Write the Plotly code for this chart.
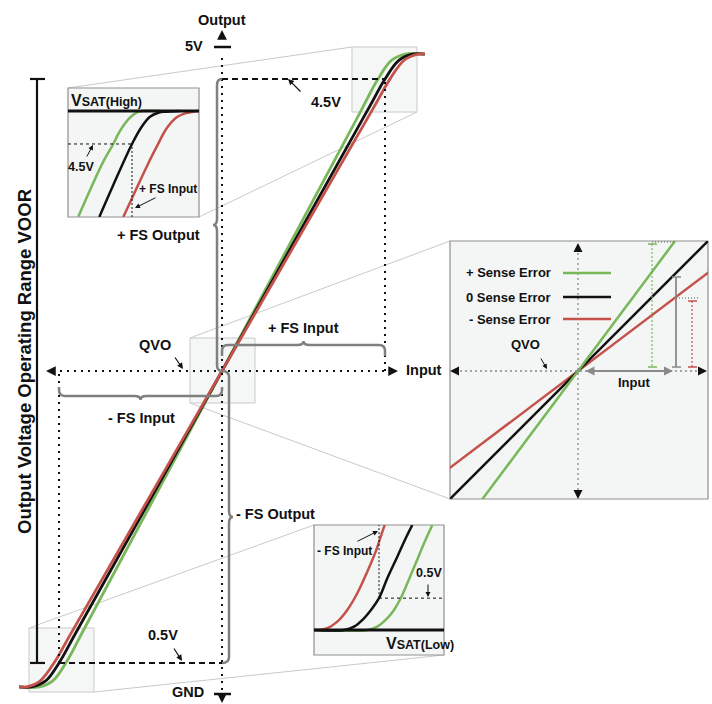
import plotly.graph_objects as go

W, H = 712, 704

# ---------------- chart values ----------------
QVO = 2.5          # quiescent output voltage (V)
FS_INPUT = 1.0     # full-scale input (normalised)
V_POS_FS = 4.5     # output at +FS input (V)
V_NEG_FS = 0.5     # output at -FS input (V)
VSAT_HIGH = 4.67   # saturation high (V)
VSAT_LOW = 0.336   # saturation low (V)

series_names = ["+ Sense Error", "0 Sense Error", "- Sense Error"]

# main transfer curves: input (x FS) -> output (V)
main_green_x = [-1.245, -1.12, -1.035, -0.95, -0.85, 0.0, 0.85, 0.954, 1.039, 1.124, 1.245]
main_green_y = [0.336, 0.336, 0.381, 0.515, 0.724, 2.5, 4.277, 4.494, 4.627, 4.671, 4.671]
main_black_x = [-1.245, -1.17, -1.082, -1.0, -0.9, 0.0, 0.9, 1.0, 1.085, 1.17, 1.245]
main_black_y = [0.336, 0.336, 0.377, 0.5, 0.7, 2.5, 4.3, 4.5, 4.6275, 4.67, 4.67]
main_red_x = [-1.245, -1.2, -1.115, -1.03, -0.93, 0.0, 0.93, 1.034, 1.119, 1.204, 1.245]
main_red_y = [0.336, 0.336, 0.378, 0.502, 0.696, 2.5, 4.304, 4.506, 4.630, 4.671, 4.671]

# zoomed view near VSAT(High)
hi_green_x = [0.6949, 0.8369, 0.8938, 0.9222, 0.9506, 0.979, 1.0074, 1.0358, 1.0642, 1.1591]
hi_green_y = [4.1252, 4.4087, 4.5, 4.552, 4.5942, 4.6272, 4.6509, 4.6654, 4.67, 4.67]
hi_black_x = [0.8142, 0.8938, 1.0, 1.0551, 1.1023, 1.1494, 1.1972, 1.2727]
hi_black_y = [4.1236, 4.2886, 4.5, 4.5891, 4.6406, 4.6612, 4.6664, 4.67]
hi_red_x = [0.9506, 1.017, 1.0835, 1.1403, 1.1972, 1.254, 1.3011, 1.3483, 1.3807]
hi_red_y = [4.1236, 4.254, 4.3829, 4.486, 4.5808, 4.6375, 4.6581, 4.6664, 4.67]

# zoomed view near VSAT(Low)
lo_green_x = [-1.369, -1.0665, -1.0097, -0.9619, -0.9148, -0.8767, -0.8392, -0.7915, -0.7443, -0.6972]
lo_green_y = [0.336, 0.336, 0.353, 0.3875, 0.4391, 0.4994, 0.5767, 0.6798, 0.7829, 0.8772]
lo_black_x = [-1.369, -1.1989, -1.142, -1.0852, -1.0381, -1.0, -0.9528, -0.896, -0.8483, -0.8108]
lo_black_y = [0.336, 0.336, 0.353, 0.3963, 0.4479, 0.5, 0.6025, 0.7138, 0.8087, 0.8772]
lo_red_x = [-1.369, -1.3506, -1.2938, -1.2369, -1.1801, -1.1233, -1.0665, -1.0188, -0.9903, -0.9676]
lo_red_y = [0.336, 0.336, 0.3448, 0.3788, 0.4391, 0.5252, 0.6365, 0.7396, 0.8169, 0.8772]

# zoomed view around QVO (sensitivity error)
sense_x = [-1.05, 1.05]
sense_green_y = [-1.407, 1.407]
sense_black_y = [-1.05, 1.05]
sense_red_y = [-0.794, 0.794]

# ---------------- styling / layout ----------------
GREEN = "#79b75b"
BLACK = "#111111"
RED = "#c4524b"
BRACE = "#808080"
BOXLINE = "#c9c9c9"
FONT = "Liberation Sans, Arial, Helvetica, sans-serif"
DOT = "2px,5px"
DASH = "6px,4px"

X_RANGE = [-1.362, 3.006]
Y_RANGE = [0.219, 5.041]
XU = (X_RANGE[1] - X_RANGE[0]) / W   # data units per pixel
YU = (Y_RANGE[1] - Y_RANGE[0]) / H

HI_BOX = (68, 88, 199, 217)
SE_BOX = (450, 241, 708, 499)
LO_BOX = (314, 525, 444, 655)
HI_XR, HI_YR = [0.6364, 1.3807], [4.1236, 4.7886]
LO_XR, LO_YR = [-1.369, -0.631], [0.207, 0.877]
SE_XR, SE_YR = [-0.992, 1.008], [-0.992, 1.008]


def px_x(x):
    return x / W


def px_y(y):
    return 1 - y / H


def dom(box):
    x0, y0, x1, y1 = box
    return [x0 / W, x1 / W], [1 - y1 / H, 1 - y0 / H]


shapes = []
annotations = []


def line(x0, y0, x1, y1, color, width, dash="solid", xref="paper", yref="paper", layer="above"):
    shapes.append(dict(type="line", x0=x0, y0=y0, x1=x1, y1=y1, xref=xref, yref=yref,
                       line=dict(color=color, width=width, dash=dash), layer=layer))


def pline(x0, y0, x1, y1, color, width, dash="solid", layer="above"):
    line(px_x(x0), px_y(y0), px_x(x1), px_y(y1), color, width, dash, layer=layer)


def prect(box, fill, lc, lw, layer="below"):
    x0, y0, x1, y1 = box
    shapes.append(dict(type="rect", xref="paper", yref="paper", x0=px_x(x0), y0=px_y(y1),
                       x1=px_x(x1), y1=px_y(y0), fillcolor=fill,
                       line=dict(color=lc, width=lw), layer=layer))


def label(x, y, text, size=14.5, xanchor="center", yanchor="middle", angle=0):
    annotations.append(dict(x=px_x(x), y=px_y(y), xref="paper", yref="paper", text=text,
                            showarrow=False, xanchor=xanchor, yanchor=yanchor, textangle=angle,
                            font=dict(family=FONT, size=size, color=BLACK, weight="bold")))


def arrow(tx, ty, hx, hy, color=BLACK, width=1.2, size=1.0, head=2, side="end"):
    annotations.append(dict(x=px_x(hx), y=px_y(hy), xref="paper", yref="paper",
                            ax=tx - hx, ay=ty - hy, axref="pixel", ayref="pixel", text="",
                            showarrow=True, arrowhead=head, arrowsize=size, arrowwidth=width,
                            arrowcolor=color, arrowside=side, standoff=0, startstandoff=0))


def vbrace(xb, x_end, y_lo, y_hi, tip):
    ry = 6 * YU
    ym = (y_lo + y_hi) / 2
    p = (f"M {x_end},{y_hi} Q {xb},{y_hi} {xb},{y_hi - ry} L {xb},{ym + ry} "
         f"Q {xb},{ym} {xb + tip},{ym} Q {xb},{ym} {xb},{ym - ry} "
         f"L {xb},{y_lo + ry} Q {xb},{y_lo} {x_end},{y_lo}")
    shapes.append(dict(type="path", path=p, xref="x", yref="y",
                       line=dict(color=BRACE, width=2.5)))


def hbrace(yb, x_lo, x_hi, legdir, leg, tip):
    rx = 6 * XU
    ry = 6 * YU
    xm = (x_lo + x_hi) / 2
    p = (f"M {x_lo},{yb + legdir * leg} L {x_lo},{yb + legdir * ry} Q {x_lo},{yb} {x_lo + rx},{yb} "
         f"L {xm - rx},{yb} Q {xm},{yb} {xm},{yb + tip} Q {xm},{yb} {xm + rx},{yb} "
         f"L {x_hi - rx},{yb} Q {x_hi},{yb} {x_hi},{yb + legdir * ry} L {x_hi},{yb + legdir * leg}")
    shapes.append(dict(type="path", path=p, xref="x", yref="y",
                       line=dict(color=BRACE, width=2.5)))


fig = go.Figure()


def curve(xs, ys, color, xa, ya, width, shape="spline", smoothing=1.0):
    fig.add_trace(go.Scatter(x=xs, y=ys, mode="lines",
                             line=dict(color=color, width=width, shape=shape, smoothing=smoothing),
                             xaxis=xa, yaxis=ya, hoverinfo="skip", showlegend=False))


# ---- zoom boxes and connectors (behind everything) ----
ZB_HI = (352, 47, 417, 112)
ZB_SE = (190, 338, 255, 403)
ZB_LO = (29, 628, 94, 692)
for zb in (ZB_HI, ZB_SE, ZB_LO):
    prect(zb, "rgba(232,238,235,0.45)", BOXLINE, 1)
pline(68, 88, 352, 47, BOXLINE, 1, layer="below")
pline(199, 217, 417, 112, BOXLINE, 1, layer="below")
pline(190, 338, 450, 241, BOXLINE, 1, layer="below")
pline(190, 403, 450, 499, BOXLINE, 1, layer="below")
pline(29, 628, 314, 525, BOXLINE, 1, layer="below")
pline(94, 692, 444, 655, BOXLINE, 1, layer="below")
for box in (HI_BOX, SE_BOX, LO_BOX):
    prect(box, "#f4f6f5", "#8f8f8f", 1.2)

# ---- main chart ----
curve(main_green_x, main_green_y, GREEN, "x", "y", 2.8)
curve(main_black_x, main_black_y, BLACK, "x", "y", 2.8)
curve(main_red_x, main_red_y, RED, "x", "y", 2.8)

# axes (dotted)
line(0, px_y(690), 0, px_y(55), BLACK, 2, DOT, xref="x", yref="paper")
line(px_x(53), QVO, px_x(392), QVO, BLACK, 2, DOT, xref="paper", yref="y")
line(FS_INPUT, QVO, FS_INPUT, V_POS_FS, BLACK, 2, DOT, xref="x", yref="y")
line(-FS_INPUT, V_NEG_FS, -FS_INPUT, QVO, BLACK, 2, DOT, xref="x", yref="y")
line(0, V_POS_FS, FS_INPUT, V_POS_FS, BLACK, 2, DASH, xref="x", yref="y")
line(-FS_INPUT, V_NEG_FS, 0, V_NEG_FS, BLACK, 2, DASH, xref="x", yref="y")

# 5V / GND ticks
pline(214, 47, 231, 47, BLACK, 2.5)
pline(214, 694, 231, 694, BLACK, 2.5)
arrow(222, 40, 222, 30, width=1.5, size=1.3)
arrow(222, 698, 222, 704, width=1.5, size=1.3)
arrow(54, 371, 46, 371, width=1.5, size=1.3)
arrow(390, 371, 398, 371, width=1.5, size=1.3)

# VOOR bar
line(px_x(37), V_NEG_FS, px_x(37), V_POS_FS, BLACK, 2.2, xref="paper", yref="y")
line(px_x(30), V_POS_FS, px_x(45), V_POS_FS, BLACK, 2.2, xref="paper", yref="y")
line(px_x(30), V_NEG_FS, px_x(45), V_NEG_FS, BLACK, 2.2, xref="paper", yref="y")

# braces
vbrace(-5 * XU, 0, QVO, V_POS_FS, -4 * XU)
vbrace(7 * XU, 0, V_NEG_FS, QVO, 4 * XU)
hbrace(QVO + 26 * YU, 0, FS_INPUT, -1, 11 * YU, 4 * YU)
hbrace(QVO - 25 * YU, -FS_INPUT, 0, 1, 9 * YU, -4 * YU)

# main labels
label(24, 362, "Output Voltage Operating Range VOOR", size=18.5, angle=-90)
label(222, 20, "Output")
label(194, 46, "5V")
label(188, 692, "GND")
label(326, 102, "4.5V")
arrow(302, 93, 288, 79)
label(202, 235, "+ FS Output", xanchor="right")
label(303, 328, "+ FS Input")
label(155, 345, "QVO")
arrow(174, 356, 183, 369)
label(404, 370, "Input", xanchor="left")
label(141, 418, "- FS Input")
label(234, 514, "- FS Output", xanchor="left")
label(163, 635, "0.5V")
arrow(173, 647, 182, 661)

# ---- inset: VSAT(High) ----
curve(hi_green_x, hi_green_y, GREEN, "x2", "y2", 2.5)
curve(hi_black_x, hi_black_y, BLACK, "x2", "y2", 2.5)
curve(hi_red_x, hi_red_y, RED, "x2", "y2", 2.5)
line(0, VSAT_HIGH, 1, VSAT_HIGH, BLACK, 3, xref="x2 domain", yref="y2")
line(HI_XR[0], V_POS_FS, FS_INPUT, V_POS_FS, BLACK, 1, "3px,3px", xref="x2", yref="y2")
line(FS_INPUT, HI_YR[0], FS_INPUT, V_POS_FS, BLACK, 1, "2px,2px", xref="x2", yref="y2")
label(69, 100, "V<span style='font-size:12.5px'>SAT(High)</span>", size=16, xanchor="left")
label(81, 167, "4.5V", size=12.5)
arrow(86, 158, 93, 145, width=1)
label(168, 189, "+ FS Input", size=12)
arrow(157, 197, 135, 208, width=1)

# ---- inset: VSAT(Low) ----
curve(lo_green_x, lo_green_y, GREEN, "x4", "y4", 2.5)
curve(lo_black_x, lo_black_y, BLACK, "x4", "y4", 2.5)
curve(lo_red_x, lo_red_y, RED, "x4", "y4", 2.5)
line(0, VSAT_LOW, 1, VSAT_LOW, BLACK, 3, xref="x4 domain", yref="y4")
line(-FS_INPUT, V_NEG_FS, -FS_INPUT, LO_YR[1], BLACK, 1, "2px,2px", xref="x4", yref="y4")
line(-FS_INPUT, V_NEG_FS, LO_XR[1], V_NEG_FS, BLACK, 1, "3px,3px", xref="x4", yref="y4")
label(384, 643, "V<span style='font-size:12.5px'>SAT(Low)</span>", size=16, xanchor="left")
label(344, 551, "- FS Input", size=12)
arrow(356, 542, 378, 531, width=1)
label(429, 573, "0.5V", size=12.5)
arrow(428, 583, 428, 597, width=1)

# ---- inset: sensitivity error around QVO ----
pline(578, 248, 578, 494, "#8a8a8a", 1.3, "2px,3px")
pline(455, 371, 703, 371, "#8a8a8a", 1.3, "2px,3px")
arrow(578, 250, 578, 243, width=1.5, size=1.2)
arrow(578, 492, 578, 499, width=1.5, size=1.2)
arrow(457, 371, 450, 371, width=1.5, size=1.2)
arrow(700, 371, 707, 371, width=1.5, size=1.2)
curve(sense_x, sense_red_y, RED, "x3", "y3", 2.5, shape="linear")
curve(sense_x, sense_black_y, BLACK, "x3", "y3", 2.5, shape="linear")
curve(sense_x, sense_green_y, GREEN, "x3", "y3", 2.5, shape="linear")
arrow(584, 371, 673, 371, color="#8a8a8a", width=1.8, size=1.0, side="end+start")
pline(676, 277, 676, 367, "#8a8a8a", 1.8)
pline(672, 277, 681, 277, "#8a8a8a", 1.5)
pline(672, 367, 681, 367, "#8a8a8a", 1.5)
pline(652, 244, 652, 367, GREEN, 1.2, "2px,2px")
pline(648, 244, 657, 244, GREEN, 1.5)
pline(648, 367, 657, 367, GREEN, 1.5)
pline(652, 242, 676, 242, "#555555", 1, "1px,2px")
pline(692, 301, 692, 367, RED, 1.2, "2px,2px")
pline(688, 301, 697, 301, RED, 1.5)
pline(688, 367, 697, 367, RED, 1.5)
pline(676, 298, 700, 298, "#555555", 1, "1px,2px")
legend_y = [273, 297, 319]
for name, col, ly in zip(series_names, [GREEN, BLACK, RED], legend_y):
    label(553, ly, name, size=13, xanchor="right")
    pline(563, ly, 611, ly, col, 2.5)
label(525, 345, "QVO", size=13)
arrow(540, 357, 547, 369, width=1)
label(634, 382, "Input", size=13)


def axis(rng, domain, anchor):
    return dict(range=rng, domain=domain, anchor=anchor, visible=False, fixedrange=True,
                showgrid=False, zeroline=False)


hd, sd, ld = dom(HI_BOX), dom(SE_BOX), dom(LO_BOX)
fig.update_layout(
    width=W, height=H, autosize=False,
    margin=dict(l=0, r=0, t=0, b=0, pad=0),
    paper_bgcolor="white", plot_bgcolor="rgba(0,0,0,0)",
    showlegend=False,
    xaxis=axis(X_RANGE, [0, 1], "y"), yaxis=axis(Y_RANGE, [0, 1], "x"),
    xaxis2=axis(HI_XR, hd[0], "y2"), yaxis2=axis(HI_YR, hd[1], "x2"),
    xaxis3=axis(SE_XR, sd[0], "y3"), yaxis3=axis(SE_YR, sd[1], "x3"),
    xaxis4=axis(LO_XR, ld[0], "y4"), yaxis4=axis(LO_YR, ld[1], "x4"),
    shapes=shapes, annotations=annotations,
    font=dict(family=FONT),
)

fig.write_html(
    "out.html",
    config={"displayModeBar": False},
    post_script="document.body.style.margin='0px';document.body.style.overflow='hidden';",
)
